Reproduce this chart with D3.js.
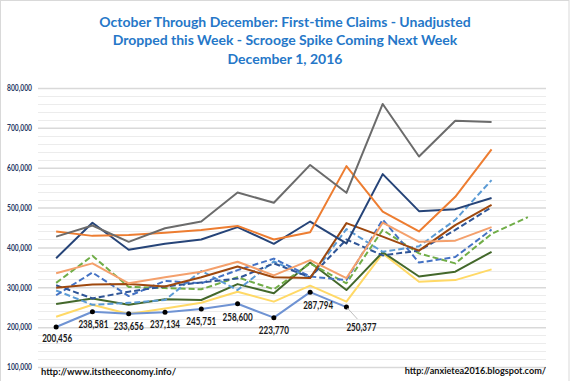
<!DOCTYPE html>
<html>
<head>
<meta charset="utf-8">
<script src="https://cdn.jsdelivr.net/npm/d3@7"></script>
<style>
  html, body { margin: 0; padding: 0; background: #ffffff; }
  svg { display: block; }
  text { font-family: Lato, "Open Sans", sans-serif; }
</style>
</head>
<body>
<div id="chart"></div>
<script>
// ---------- DATA ----------
const weeks = ["Wk 1","Wk 2","Wk 3","Wk 4","Wk 5","Wk 6","Wk 7","Wk 8","Wk 9","Wk 10","Wk 11","Wk 12","Wk 13","Wk 14"];
const yTicks = [100000, 200000, 300000, 400000, 500000, 600000, 700000, 800000];

const grayLine       = [427000, 455000, 414000, 448000, 465000, 538000, 512000, 607000, 537000, 760000, 628000, 718000, 715000];
const orangeLine     = [440000, 429000, 431000, 437000, 444000, 454000, 420000, 438000, 604000, 490000, 440000, 527000, 646000];
const navyLine       = [373000, 462000, 394000, 409000, 420000, 451000, 409000, 465000, 410000, 584000, 491000, 496000, 524000];
const lightOrangeLine= [335000, 360000, 310000, 325000, 339000, 364000, 330000, 368000, 323000, 462000, 414000, 417000, 451000];
const brownLine      = [299000, 307000, 308000, 302000, 325000, 352000, 325000, 323000, 461000, 427000, 392000, 456000, 507000];
const navyDashed     = [305000, 272000, 289000, 302000, 312000, 322000, 360000, 325000, 420000, 380000, 392000, 444000, 501000];
const blueDashed     = [280000, 337000, 278000, 316000, 310000, 343000, 372000, 327000, 318000, 470000, 362000, 376000, 445000];
const skyDashed      = [292000, 256000, 261000, 268000, 341000, 293000, 365000, 323000, 446000, 389000, 403000, 469000, 569000];
const greenDashed    = [311000, 379000, 301000, 298000, 295000, 325000, 295000, 360000, 310000, 444000, 385000, 360000, 434000, 476000];
const darkGreenLine  = [258000, 272000, 256000, 270000, 268000, 308000, 285000, 362000, 293000, 388000, 327000, 339000, 389000];
const yellowLine     = [226000, 256000, 233000, 247000, 261000, 289000, 264000, 304000, 264000, 385000, 314000, 318000, 345000];
const current2016    = [200456, 238581, 233656, 237134, 245751, 258600, 223770, 287794, 250377];

const titleLines = [
  "October Through December: First-time Claims - Unadjusted",
  "Dropped this Week - Scrooge Spike Coming Next Week",
  "December 1, 2016"
];
const sourceLeft = "http://www.itstheeconomy.info/";
const sourceRight = "http://anxietea2016.blogspot.com/";

// ---------- SERIES (styles) ----------
const series = [
  { values: yellowLine,      color: "#FFD966", dash: null },
  { values: darkGreenLine,   color: "#43682B", dash: null },
  { values: greenDashed,     color: "#70AD47", dash: "6,3" },
  { values: skyDashed,       color: "#5B9BD5", dash: "6,3" },
  { values: blueDashed,      color: "#4472C4", dash: "6,3" },
  { values: navyDashed,      color: "#2F5597", dash: "6,3" },
  { values: brownLine,       color: "#9E480E", dash: null },
  { values: lightOrangeLine, color: "#F4A06C", dash: null },
  { values: navyLine,        color: "#264478", dash: null },
  { values: orangeLine,      color: "#ED7D31", dash: null },
  { values: grayLine,        color: "#6B6B6B", dash: null },
  { values: current2016,     color: "#6F93D3", dash: null }
];

// ---------- LAYOUT ----------
const W = 571, H = 381;
const plot = { left: 38, right: 546, top: 88, bottom: 367 };

const svg = d3.select("#chart").append("svg").attr("width", W).attr("height", H);

svg.append("rect").attr("x", 0.5).attr("y", 0.5).attr("width", 568.5).attr("height", 385)
  .attr("fill", "#fff").attr("stroke", "#d9d9d9");

const x = d3.scaleBand().domain(weeks).range([plot.left, plot.right]).padding(0);
const y = d3.scaleLinear().domain([100000, 800000]).range([plot.bottom, plot.top]);
const cx = i => x(weeks[i]) + x.bandwidth() / 2;

// minor gridlines
const minor = d3.range(100000, 800001, 20000).filter(v => v % 100000 !== 0);
svg.append("g").selectAll("line").data(minor).join("line")
  .attr("x1", plot.left).attr("x2", plot.right)
  .attr("y1", d => Math.round(y(d)) + 0.5).attr("y2", d => Math.round(y(d)) + 0.5)
  .attr("stroke", "#ececec").attr("stroke-width", 1);

// major gridlines + y axis
const yAxis = d3.axisLeft(y).tickValues(yTicks).tickFormat(d3.format(","))
  .tickSize(-(plot.right - plot.left)).tickPadding(6);
const gy = svg.append("g").attr("transform", `translate(${plot.left},0)`).call(yAxis);
gy.select(".domain").remove();
gy.selectAll(".tick line").attr("stroke", "#d9d9d9").attr("stroke-width", 1.5);
gy.selectAll(".tick text").attr("fill", "#1F3864").attr("font-size", 8.5)
  .attr("font-weight", 700).attr("font-family", "Lato, sans-serif")
  .attr("textLength", 25).attr("lengthAdjust", "spacingAndGlyphs");

// lines
const line = d3.line().x((d, i) => cx(i)).y(d => y(d));
svg.append("g").selectAll("path").data(series).join("path")
  .attr("d", s => line(s.values))
  .attr("fill", "none")
  .attr("stroke", s => s.color)
  .attr("stroke-width", 2)
  .attr("stroke-dasharray", s => s.dash)
  .attr("stroke-linejoin", "round");

// markers for current year
svg.append("g").selectAll("circle").data(current2016).join("circle")
  .attr("cx", (d, i) => cx(i)).attr("cy", d => y(d)).attr("r", 2.5).attr("fill", "#000");

// data labels
const labelOffsets = [[1, 15], [1, 16], [0, 16], [0, 16], [0, 16], [0, 17], [0, 16], [8, 17], [15, 24]];
const fmt = d3.format(",");
const li = current2016.length - 1;
svg.append("line")
  .attr("x1", cx(li) + 1).attr("y1", y(current2016[li]) + 1)
  .attr("x2", cx(li) + 11).attr("y2", y(current2016[li]) + 12)
  .attr("stroke", "#bfbfbf").attr("stroke-width", 1);
svg.append("g").selectAll("text").data(current2016).join("text")
  .attr("x", (d, i) => cx(i) + labelOffsets[i][0])
  .attr("y", (d, i) => y(d) + labelOffsets[i][1])
  .attr("text-anchor", "middle")
  .attr("font-size", 10.5).attr("font-weight", 700).attr("fill", "#1a1a1a")
  .attr("textLength", 30).attr("lengthAdjust", "spacingAndGlyphs")
  .text(d => fmt(d));

// title
svg.append("g").selectAll("text").data(titleLines).join("text")
  .attr("x", 285).attr("y", (d, i) => 26.5 + i * 18.5)
  .attr("text-anchor", "middle")
  .attr("font-size", 14).attr("font-weight", 700).attr("fill", "#2577C8")
  .text(d => d);

// sources
svg.append("text").attr("x", 41).attr("y", 374.5)
  .attr("font-size", 9.4).attr("font-weight", 700).attr("fill", "#111").text(sourceLeft);
svg.append("text").attr("x", 546).attr("y", 374).attr("text-anchor", "end")
  .attr("font-size", 9.1).attr("font-weight", 700).attr("fill", "#111").text(sourceRight);
</script>
</body>
</html>
